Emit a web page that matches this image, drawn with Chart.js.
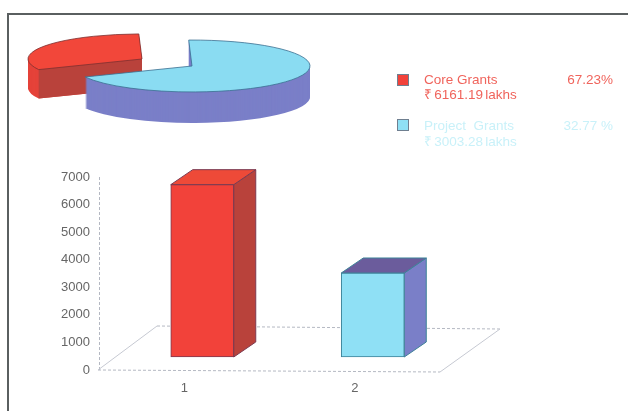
<!DOCTYPE html>
<html lang="en">
<head>
    <meta charset="UTF-8">
    <title>Grants</title>
    <script src="https://cdn.jsdelivr.net/npm/chart.js"></script>
    <style>
        html, body { margin: 0; height: 100%; overflow: hidden; background: #fff; }
        body { position: relative; font-family: "Liberation Sans", sans-serif; }
        canvas { position: absolute; left: 0; top: 0; }
        #frame { position: absolute; left: 7px; top: 13px; right: 0; bottom: 0; border-top: 2px solid #5a5f60; border-left: 2px solid #5a5f60; }
        .txt { position: absolute; font-size: 13.5px; line-height: 16px; white-space: pre; }
        .swatch { position: absolute; width: 10px; height: 10px; border: 1px solid #6f7f90; }
    </style>
</head>
<body>
    <div id="frame"></div>
    <canvas id="pie" width="320" height="236"></canvas>
    <canvas id="bars" width="628" height="411"></canvas>
    <div id="legend"></div>

    <script>
        const categories = ['1', '2'];
        const grants = [6161.19, 3003.28];
        const yTicksMax = 7000;
        const yTickStep = 1000;

        // slice shares as they look in the pie: red is the small one
        const pieShares = [31.5, 68.5];

        const legendNames = ['Core Grants', 'Project  Grants'];
        const legendAmounts = ['₹ 6161.19 lakhs', '₹ 3003.28 lakhs'];
        const legendPercents = ['67.23%', '32.77 %'];

        const faceColors = ['#f2423a', '#8fe0f5'];
        const sideColors = ['#b9423b', '#7a7fc8'];
        const topColors = ['#ee4a38', '#6b5c9c'];
        const edgeColors = ['#7c3a50', '#3d8298'];
        const legendColors = ['#f0645c', '#c9f1f9'];

        // pie: squash and extrude
        const pieCenterX = 192, pieCenterY = 66, squash = 0.22;
        const pieDepths = [29, 31];
        const explodeX = -50, explodeY = -7, redShrink = 4;

        const pieOrigin = chart => {
            const area = chart.chartArea;
            return {
                tx: pieCenterX - (area.left + area.right) / 2,
                ty: pieCenterY - (area.top + area.bottom) / 2 * squash
            };
        };

        const wedge = (ctx, arc, o, dy) => {
            const cx = arc.x + o.tx;
            const cy = arc.y * squash + o.ty + dy;
            ctx.beginPath();
            ctx.moveTo(cx, cy);
            ctx.ellipse(cx, cy, arc.outerRadius, arc.outerRadius * squash, 0, arc.startAngle, arc.endAngle);
            ctx.closePath();
        };

        const pie3d = {
            id: 'pie3d',
            afterDatasetUpdate(chart, args) {
                const red = args.meta.data[0];
                red.x += explodeX;
                red.y += explodeY / squash;
                red.outerRadius -= redShrink;
            },
            beforeDatasetDraw(chart, args) {
                const ctx = chart.ctx;
                const o = pieOrigin(chart);
                args.meta.data.forEach((arc, i) => {
                    ctx.fillStyle = i === 0 ? '#e5433a' : sideColors[1];
                    for (let d = pieDepths[i]; d > 0; d--) {
                        wedge(ctx, arc, o, d);
                        ctx.fill();
                    }
                    if (i === 0) {
                        // cut face of the pulled-out slice
                        const r = arc.outerRadius;
                        const ax = arc.x + o.tx, ay = arc.y * squash + o.ty;
                        const bx = ax + r * Math.cos(arc.startAngle), by = ay + r * squash * Math.sin(arc.startAngle);
                        ctx.beginPath();
                        ctx.moveTo(ax, ay);
                        ctx.lineTo(bx, by);
                        ctx.lineTo(bx, by + pieDepths[0]);
                        ctx.lineTo(ax, ay + pieDepths[0]);
                        ctx.closePath();
                        ctx.fillStyle = sideColors[0];
                        ctx.fill();
                    }
                });
                ctx.save();
                ctx.transform(1, 0, 0, squash, o.tx, o.ty);
            },
            afterDatasetDraw(chart, args) {
                const ctx = chart.ctx;
                ctx.restore();
                const o = pieOrigin(chart);
                args.meta.data.forEach((arc, i) => {
                    wedge(ctx, arc, o, 0);
                    ctx.strokeStyle = i === 0 ? '#7c3030' : '#3a6f90';
                    ctx.lineWidth = 0.8;
                    ctx.stroke();
                });
            }
        };

        new Chart(document.getElementById('pie'), {
            type: 'doughnut',
            data: {
                labels: ['red', 'blue'],
                datasets: [{
                    data: pieShares,
                    backgroundColor: ['#f2473a', '#8adcf2'],
                    borderWidth: 0,
                    clip: false
                }]
            },
            options: {
                responsive: false,
                animation: false,
                events: [],
                cutout: 0,
                rotation: 245,
                plugins: { legend: { display: false }, tooltip: { enabled: false } }
            },
            plugins: [pie3d]
        });

        // bars: front face sits up and right of the axis, on the floor plane
        const barShiftX = 18, barShiftY = -13, depthX = 22, depthY = -15;
        const floorX = 58, floorY = -44;

        const poly = (ctx, pts, fill, edge) => {
            ctx.beginPath();
            pts.forEach((p, i) => i ? ctx.lineTo(p[0], p[1]) : ctx.moveTo(p[0], p[1]));
            ctx.closePath();
            ctx.fillStyle = fill;
            ctx.fill();
            ctx.strokeStyle = edge;
            ctx.lineWidth = 1;
            ctx.stroke();
        };

        const box3d = {
            id: 'box3d',
            beforeDatasetsDraw(chart) {
                const ctx = chart.ctx;
                const { left, right, top, bottom } = chart.chartArea;
                ctx.save();
                ctx.lineWidth = 1;
                ctx.strokeStyle = '#b4b8c2';
                ctx.setLineDash([3, 2]);
                ctx.beginPath();
                ctx.moveTo(left + 0.5, top);          // y axis
                ctx.lineTo(left + 0.5, bottom + 2);
                ctx.moveTo(left - 1, bottom);         // x axis
                ctx.lineTo(right, bottom + 2);
                ctx.moveTo(left + floorX, bottom + floorY);   // back of the floor
                ctx.lineTo(right + floorX + 2, bottom + floorY + 3);
                ctx.stroke();
                ctx.setLineDash([]);
                ctx.strokeStyle = '#c6c9d2';
                ctx.beginPath();
                ctx.moveTo(left - 1, bottom);
                ctx.lineTo(left + floorX, bottom + floorY);
                ctx.moveTo(right, bottom + 2);
                ctx.lineTo(right + floorX + 2, bottom + floorY + 3);
                ctx.stroke();
                ctx.restore();
            },
            beforeDatasetDraw(chart, args) {
                const ctx = chart.ctx;
                ctx.save();
                ctx.translate(barShiftX, barShiftY);
                args.meta.data.forEach((bar, i) => {
                    const x0 = bar.x - bar.width / 2, x1 = bar.x + bar.width / 2;
                    poly(ctx, [[x1, bar.y], [x1 + depthX, bar.y + depthY], [x1 + depthX, bar.base + depthY], [x1, bar.base]], sideColors[i], edgeColors[i]);
                    poly(ctx, [[x0, bar.y], [x0 + depthX, bar.y + depthY], [x1 + depthX, bar.y + depthY], [x1, bar.y]], topColors[i], edgeColors[i]);
                });
            },
            afterDatasetDraw(chart) {
                chart.ctx.restore();
            }
        };

        new Chart(document.getElementById('bars'), {
            type: 'bar',
            data: {
                labels: categories,
                datasets: [{
                    data: grants,
                    yAxisID: 'yBars',
                    backgroundColor: faceColors,
                    borderColor: edgeColors,
                    borderWidth: 1,
                    borderSkipped: false,
                    barThickness: 63,
                    clip: false
                }]
            },
            options: {
                responsive: false,
                animation: false,
                events: [],
                layout: { padding: { left: 0, right: 188, top: 177, bottom: 0 } },
                scales: {
                    x: {
                        grid: { display: false, drawTicks: false },
                        border: { display: false },
                        ticks: { color: '#666', font: { family: 'Liberation Sans', size: 13 }, padding: 11, maxRotation: 0 },
                        afterFit: s => { s.height = 41; }
                    },
                    y: {
                        min: 0,
                        max: yTicksMax,
                        grid: { display: false, drawTicks: false },
                        border: { display: false },
                        ticks: { stepSize: yTickStep, color: '#666', font: { family: 'Liberation Sans', size: 13 }, padding: 9, callback: v => String(v) },
                        afterFit: s => { s.width = 99; }
                    },
                    // foreshortened depth scale of the 3D bars
                    yBars: { display: false, min: 0, max: 6900 }
                },
                plugins: { legend: { display: false }, tooltip: { enabled: false } }
            },
            plugins: [box3d]
        });

        // legend
        const legend = document.getElementById('legend');
        const addText = (text, color, left, top, right) => {
            const el = document.createElement('div');
            el.className = 'txt';
            el.textContent = text;
            el.style.color = color;
            el.style.top = top + 'px';
            if (right !== undefined) el.style.right = right + 'px';
            else el.style.left = left + 'px';
            legend.appendChild(el);
            return el;
        };
        legendNames.forEach((name, i) => {
            const top = i === 0 ? 72 : 118;
            addText(name, legendColors[i], 424, top);
            addText(legendAmounts[i], legendColors[i], 424, top + 15 + i).style.wordSpacing = '-1.5px';
            addText(legendPercents[i], legendColors[i], 0, top, 15);
            const sw = document.createElement('div');
            sw.className = 'swatch';
            sw.style.left = '397px';
            sw.style.top = (top + 2 - i) + 'px';
            sw.style.background = faceColors[i];
            legend.appendChild(sw);
        });
    </script>
</body>
</html>
